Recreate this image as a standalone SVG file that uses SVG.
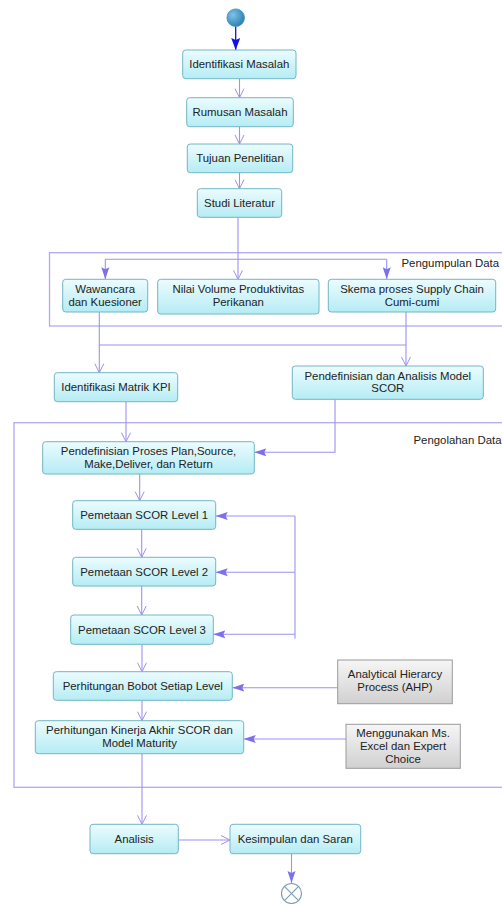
<svg xmlns="http://www.w3.org/2000/svg" width="502" height="904" viewBox="0 0 502 904">
<defs>
<linearGradient id="gc" x1="0" y1="0" x2="0" y2="1">
<stop offset="0" stop-color="#ecfcfe"/>
<stop offset="1" stop-color="#b5ecf4"/>
</linearGradient>
<linearGradient id="gg" x1="0" y1="0" x2="0" y2="1">
<stop offset="0" stop-color="#f6f6f6"/>
<stop offset="1" stop-color="#d0d0d0"/>
</linearGradient>
<radialGradient id="gs" cx="0.35" cy="0.35" r="0.7">
<stop offset="0" stop-color="#7fc3e6"/>
<stop offset="1" stop-color="#2a7fb0"/>
</radialGradient>
<marker id="open" markerWidth="12" markerHeight="12" refX="10" refY="6" orient="auto" markerUnits="userSpaceOnUse">
<path d="M1,1.5 L10,6 L1,10.5" fill="none" stroke="#9c92f0" stroke-width="1"/>
</marker>
<marker id="fill" markerWidth="14" markerHeight="12" refX="12" refY="6" orient="auto" markerUnits="userSpaceOnUse">
<path d="M0,2 L12,6 L0,10 L2,6 z" fill="#7d70ee"/>
</marker>
<marker id="start" markerWidth="14" markerHeight="12" refX="12" refY="6" orient="auto" markerUnits="userSpaceOnUse">
<path d="M0,1.5 L12,6 L0,10.5 L2,6 z" fill="#1010e8"/>
</marker>
</defs>
<style>
.box{fill:url(#gc);stroke:#72b6c4;stroke-width:1}
.gbox{fill:url(#gg);stroke:#9a9a9a;stroke-width:1}
.frame{fill:none;stroke:#b0a9f2;stroke-width:1.3}
text{font-family:"Liberation Sans",Arial,sans-serif;font-size:11.4px;fill:#222;text-anchor:middle}
.lbl{text-anchor:end}
.c{fill:none;stroke:#9c92f0;stroke-width:1.1}
.co{marker-end:url(#open)}
.cf{marker-end:url(#fill)}
</style>
<rect width="502" height="904" fill="#ffffff"/>

<g id="pengumpulan">
<rect class="frame" x="49.5" y="252.7" width="470" height="73.3"/>
<text class="lbl" x="499" y="267">Pengumpulan Data</text>
</g>
<g id="pengolahan">
<rect class="frame" x="14" y="422.7" width="510" height="364.6"/>
<text class="lbl" x="501.5" y="444">Pengolahan Data</text>
</g>

<g id="connectors">
<path d="M235.7,26.5 L235.7,50" fill="none" stroke="#1010e8" stroke-width="1.3" marker-end="url(#start)"/>
<path class="c co" d="M239.5,78.7 L239.5,97.7"/>
<path class="c co" d="M239.5,126.7 L239.5,144"/>
<path class="c co" d="M239.5,172.7 L239.5,188.7"/>
<path class="c co" d="M238,217.3 L238,279.3"/>
<path class="c" d="M105.3,259.3 L386.7,259.3"/>
<path class="c cf" d="M105.3,259.3 L105.3,279.3"/>
<path class="c cf" d="M386.7,259.3 L386.7,279.3"/>
<path class="c" d="M99.3,312 L99.3,345 L406,345 M406,312 L406,345"/>
<path class="c co" d="M99.3,345 L99.3,372.7"/>
<path class="c co" d="M406,345 L406,366"/>
<path class="c co" d="M126,401.7 L126,441.7"/>
<path class="c cf" d="M335,399.3 L335,452.3 L254.3,452.3"/>
<path class="c co" d="M139.7,474 L139.7,500.7"/>
<path class="c co" d="M141.7,529.3 L141.7,557.3"/>
<path class="c co" d="M141.7,586 L141.7,615"/>
<path class="c" d="M295,516 L295,638.7"/>
<path class="c cf" d="M295,516 L215.7,516"/>
<path class="c cf" d="M295,572.3 L215.7,572.3"/>
<path class="c cf" d="M295,634.3 L213.3,634.3"/>
<path class="c co" d="M142,644.3 L142,671.7"/>
<path class="c cf" d="M337.7,687.7 L232.3,687.7"/>
<path class="c co" d="M142,700.3 L142,720.7"/>
<path class="c cf" d="M346,739 L243.7,739"/>
<path class="c co" d="M142,753.7 L142,824.3"/>
<path class="c co" d="M178.3,840 L230,840"/>
<path class="c cf" d="M291.5,853.7 L291.5,883"/>
</g>

<g id="start-node">
<circle cx="235.7" cy="17.7" r="8.8" fill="url(#gs)" stroke="#3a8fbf" stroke-width="0.8"/>
</g>

<g id="n1"><rect class="box" x="182.7" y="50" width="113.3" height="28.7" rx="3"/><text x="239.3" y="68.2">Identifikasi Masalah</text></g>
<g id="n2"><rect class="box" x="186.7" y="97.7" width="106.6" height="29" rx="3"/><text x="240" y="116">Rumusan Masalah</text></g>
<g id="n3"><rect class="box" x="187.3" y="144" width="105.4" height="28.7" rx="3"/><text x="240" y="162.2">Tujuan Penelitian</text></g>
<g id="n4"><rect class="box" x="197.3" y="188.7" width="84.4" height="28.6" rx="3"/><text x="239.5" y="206.9">Studi Literatur</text></g>

<g id="n5"><rect class="box" x="62.7" y="279.3" width="85" height="32.7" rx="3"/><text x="105.2" y="293">Wawancara</text><text x="105.2" y="305.9">dan Kuesioner</text></g>
<g id="n6"><rect class="box" x="157.7" y="279.3" width="161.3" height="34.7" rx="3"/><text x="238.3" y="293">Nilai Volume Produktivitas</text><text x="238.3" y="305.9">Perikanan</text></g>
<g id="n7"><rect class="box" x="328.3" y="279.3" width="167.4" height="32.7" rx="3"/><text x="412" y="293">Skema proses Supply Chain</text><text x="412" y="305.9">Cumi-cumi</text></g>

<g id="n8"><rect class="box" x="54.3" y="372.7" width="123.4" height="29" rx="3"/><text x="116" y="391">Identifikasi Matrik KPI</text></g>
<g id="n9"><rect class="box" x="292.3" y="366" width="191" height="33.3" rx="3"/><text x="387.8" y="379.5">Pendefinisian dan Analisis Model</text><text x="387.8" y="392.4">SCOR</text></g>

<g id="n10"><rect class="box" x="42.7" y="441.7" width="211.6" height="32.3" rx="3"/><text x="148.5" y="455">Pendefinisian Proses Plan,Source,</text><text x="148.5" y="467.9">Make,Deliver, dan Return</text></g>
<g id="n11"><rect class="box" x="72.7" y="500.7" width="143" height="28.6" rx="3"/><text x="144.2" y="518.9">Pemetaan SCOR Level 1</text></g>
<g id="n12"><rect class="box" x="72.7" y="557.3" width="143" height="28.7" rx="3"/><text x="144.2" y="575.6">Pemetaan SCOR Level 2</text></g>
<g id="n13"><rect class="box" x="70.7" y="615" width="142.6" height="29.3" rx="3"/><text x="142" y="633.5">Pemetaan SCOR Level 3</text></g>
<g id="n14"><rect class="box" x="53.3" y="671.7" width="179" height="28.6" rx="3"/><text x="142.8" y="689.9">Perhitungan Bobot Setiap Level</text></g>
<g id="n15"><rect class="gbox" x="337.7" y="660" width="114.6" height="43.7"/><text x="395" y="678">Analytical Hierarcy</text><text x="395" y="691">Process (AHP)</text></g>
<g id="n16"><rect class="box" x="35.3" y="720.7" width="208.4" height="33" rx="3"/><text x="139.5" y="734">Perhitungan Kinerja Akhir SCOR dan</text><text x="139.5" y="746.9">Model Maturity</text></g>
<g id="n17"><rect class="gbox" x="346" y="724.3" width="114.3" height="44"/><text x="403" y="737">Menggunakan Ms.</text><text x="403" y="749.9">Excel dan Expert</text><text x="403" y="762.6">Choice</text></g>

<g id="n18"><rect class="box" x="90" y="824.3" width="88.3" height="29.4" rx="3"/><text x="134.2" y="842.7">Analisis</text></g>
<g id="n19"><rect class="box" x="230" y="824.3" width="130.7" height="29.4" rx="3"/><text x="295.3" y="842.7">Kesimpulan dan Saran</text></g>

<g id="end-node">
<circle cx="291.5" cy="893.5" r="10" fill="#ffffff" stroke="#7a9fbd" stroke-width="1.2"/>
<path d="M284.4,886.4 L298.6,900.6 M298.6,886.4 L284.4,900.6" stroke="#7a9fbd" stroke-width="1.2"/>
</g>
</svg>
